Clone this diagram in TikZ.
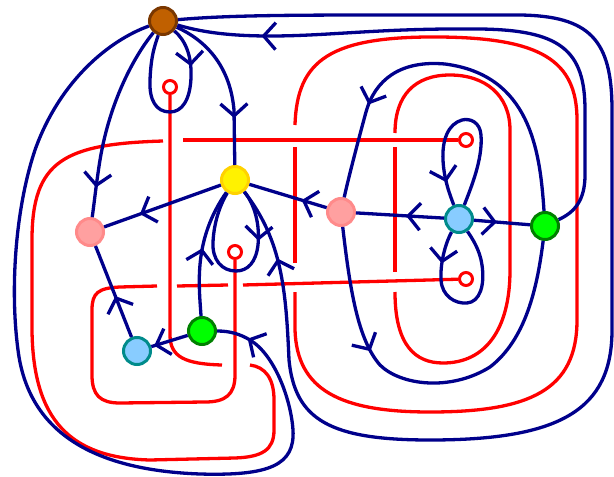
\documentclass[tikz,border=0pt]{standalone}
\usetikzlibrary{arrows.meta,decorations.markings}
\definecolor{navy}{RGB}{0,0,139}
\definecolor{brownfill}{RGB}{192,96,0}
\definecolor{brownline}{RGB}{122,55,0}
\definecolor{pinkfill}{RGB}{255,160,160}
\definecolor{pinkline}{RGB}{255,138,138}
\definecolor{skyfill}{RGB}{136,204,255}
\definecolor{tealline}{RGB}{0,139,139}
\definecolor{goldline}{RGB}{255,210,0}

\begin{document}
\begin{tikzpicture}[x=1pt,y=-1pt,
 vtx/.style={circle,line width=3pt,minimum size=27pt,inner sep=0pt},
 hole/.style={circle,draw=red,fill=white,line width=3pt,minimum size=13pt,inner sep=0pt},
 bl/.style={draw=navy,line width=3.3pt},
 rd/.style={draw=red,line width=3.3pt},
 arrowat/.style={postaction={decorate},decoration={markings,
   mark=at position #1 with {\arrow{Straight Barb[length=12pt,width=27pt]}}}}]
\useasboundingbox (0,0) rectangle (614,477);
% vertices
\node[vtx,draw=brownline,fill=brownfill] (b) at (163,21) {};
\node[vtx,draw=goldline,fill=yellow] (y) at (235,180) {};
\node[vtx,draw=pinkline,fill=pinkfill] (p1) at (90,232) {};
\node[vtx,draw=pinkline,fill=pinkfill] (p2) at (341,212) {};
\node[vtx,draw=tealline,fill=skyfill] (s1) at (459,219) {};
\node[vtx,draw=tealline,fill=skyfill] (s2) at (137,351) {};
\node[vtx,draw=green!50!black,fill=green] (g1) at (545,226) {};
\node[vtx,draw=green!50!black,fill=green] (g2) at (202,331) {};
\node[hole] (h1) at (170,87) {};
\node[hole] (h2) at (466,140) {};
\node[hole] (h3) at (235,252) {};
\node[hole] (h4) at (466,279) {};

% red strands
\draw[rd] (h1) -- (170,335) .. controls (170,357) and (185,364) .. (222,365);
\draw[rd] (250,365) .. controls (265,367) and (274,378) .. (274,400) -- (274,430)
  .. controls (274,450) and (262,457) .. (235,458) -- (150,460)
  .. controls (70,458) and (33,420) .. (32,330) -- (32,240)
  .. controls (32,160) and (65,144) .. (163,141);
\draw[rd] (183,140) -- (h2);
\draw[rd] (h3) -- (235,375) .. controls (235,395) and (225,402) .. (205,402) -- (120,403)
  .. controls (100,403) and (92,395) .. (92,375) -- (92,310)
  .. controls (92,293) and (98,288) .. (120,287) -- (157,286);
\draw[rd] (177,286) -- (228,285);
\draw[rd] (243,285) -- (h4);
\draw[rd] (295,292) -- (295,330) .. controls (297,390) and (340,412) .. (430,412)
  .. controls (530,412) and (577,390) .. (577,320) -- (577,120)
  .. controls (577,60) and (540,38) .. (440,37)
  .. controls (330,36) and (297,60) .. (295,125);
\draw[rd] (295,147) -- (295,263);
\draw[rd] (395,292) .. controls (395,345) and (415,363) .. (443,363)
  .. controls (485,363) and (510,330) .. (510,270) -- (510,130)
  .. controls (510,95) and (485,75) .. (450,75)
  .. controls (415,75) and (395,95) .. (395,133);
\draw[rd] (395,147) -- (395,272);

% blue edges
\draw[bl,arrowat=-75pt] (b) .. controls (230,15) and (300,15) .. (400,15) -- (520,15)
  .. controls (590,16) and (612,40) .. (612,110) -- (612,330)
  .. controls (612,410) and (560,440) .. (430,440)
  .. controls (330,440) and (295,420) .. (289,360)
  .. controls (286,290) and (282,240) .. (y);
\draw[bl,arrowat=-85pt] (g1) .. controls (575,212) and (585,200) .. (585,175) -- (585,110)
  .. controls (585,50) and (560,30) .. (480,29)
  .. controls (380,28) and (330,36) .. (270,36)
  .. controls (220,36) and (195,30) .. (b);
\draw[bl,arrowat=40pt] (b) .. controls (185,40) and (192,55) .. (191,78)
  .. controls (190,100) and (182,112) .. (170,112)
  .. controls (156,112) and (149,100) .. (150,80)
  .. controls (151,55) and (155,45) .. (b);
\draw[bl,arrowat=-30pt] (b) .. controls (135,55) and (110,100) .. (100,160)
  .. controls (96,185) and (94,205) .. (p1);
\draw[bl,arrowat=-32pt] (b) .. controls (110,40) and (60,80) .. (35,150)
  .. controls (15,210) and (10,290) .. (18,350)
  .. controls (28,430) and (90,470) .. (200,474)
  .. controls (270,476) and (295,465) .. (293,430)
  .. controls (291,400) and (275,355) .. (250,340)
  .. controls (240,334) and (230,331) .. (g2);
\draw[bl,arrowat=-47pt] (b) .. controls (205,40) and (230,65) .. (234,110) -- (y);
\draw[bl,arrowat=68pt] (g2) .. controls (199,285) and (193,240) .. (y);
\draw[bl,arrowat=52pt] (y) .. controls (255,205) and (260,225) .. (258,245)
  .. controls (256,262) and (248,271) .. (236,271)
  .. controls (222,271) and (212,260) .. (213,242)
  .. controls (214,222) and (220,205) .. (y);
\draw[bl,arrowat=128pt] (p2) .. controls (350,290) and (358,340) .. (380,365)
  .. controls (400,385) and (450,392) .. (490,367)
  .. controls (525,340) and (537,290) .. (g1);
\draw[bl,arrowat=-96pt] (g1) .. controls (540,150) and (530,75) .. (445,64)
  .. controls (400,60) and (375,80) .. (366,112)
  .. controls (357,145) and (348,180) .. (p2);
\draw[bl,arrowat=-24pt] (s1) .. controls (470,190) and (483,160) .. (481,135)
  .. controls (480,122) and (470,118) .. (462,120)
  .. controls (448,124) and (442,140) .. (443,160)
  .. controls (444,180) and (450,195) .. (s1);
\draw[bl,arrowat=33pt] (s1) .. controls (447,240) and (440,260) .. (441,280)
  .. controls (442,296) and (455,304) .. (467,303)
  .. controls (480,302) and (485,285) .. (482,265)
  .. controls (480,250) and (472,238) .. (s1);
\foreach \a/\b/\d in {y/p1/86pt,p2/y/26pt,s1/p2/38pt,s1/g1/23pt,g2/s2/35pt,s2/p1/44pt}
  \draw[bl,arrowat=\d] (\a) -- (\b);
\end{tikzpicture}
\end{document}
